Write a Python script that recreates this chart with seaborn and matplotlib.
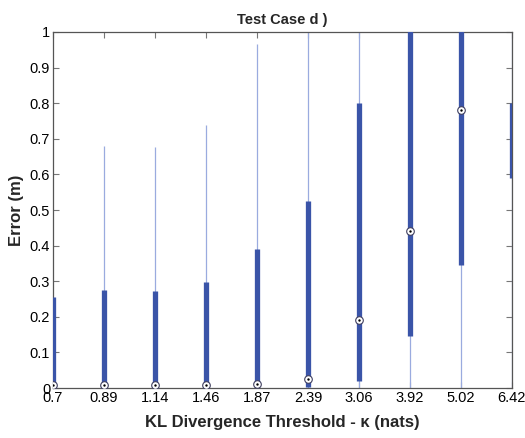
import numpy as np
import pandas as pd
import matplotlib
matplotlib.use("Agg")
import matplotlib.pyplot as plt
import seaborn as sns

# ---- data ----
thresholds = ["0.7", "0.89", "1.14", "1.46", "1.87", "2.39", "3.06", "3.92", "5.02", "6.42"]
whisker_lo = [0.0, 0.0, 0.0, 0.0, 0.0, 0.0, 0.0, 0.0, 0.0, 0.0]
q1 = [0.0, 0.0, 0.0, 0.0, 0.0, 0.004, 0.02, 0.145, 0.345, 0.59]
median = [0.01, 0.01, 0.01, 0.01, 0.012, 0.025, 0.19, 0.44, 0.78, 1.1]
q3 = [0.255, 0.275, 0.273, 0.298, 0.39, 0.525, 0.80, 1.1, 1.1, 0.80]
whisker_hi = [0.255, 0.68, 0.678, 0.74, 0.965, 1.1, 1.1, 1.1, 1.1, 1.1]
yticks = [0, 0.1, 0.2, 0.3, 0.4, 0.5, 0.6, 0.7, 0.8, 0.9, 1]
ytick_labels = ["0", "0.1", "0.2", "0.3", "0.4", "0.5", "0.6", "0.7", "0.8", "0.9", "1"]

df = pd.DataFrame({"threshold": thresholds, "wlo": whisker_lo, "q1": q1,
                   "median": median, "q3": q3, "whi": whisker_hi})

sns.set_style("white")
plt.rcParams["font.family"] = ["Liberation Sans", "DejaVu Sans"]

fig = plt.figure(figsize=(5.25, 4.38), dpi=100)
ax = fig.add_axes([0.101, 0.114, 0.874, 0.813])

pos = np.arange(len(df))
box_color = "#3a54a8"
whisk_color = "#9aabdf"

ax.vlines(pos, df["wlo"], df["whi"], color=whisk_color, lw=0.9, zorder=2)
ax.vlines(pos, df["q1"], df["q3"], color=box_color, lw=3.8, zorder=3)

sns.scatterplot(data=df, x=pos, y="median", ax=ax, marker="o", s=30,
                facecolor="white", edgecolor="#404060", linewidth=0.8, zorder=4,
                legend=False)
sns.scatterplot(data=df, x=pos, y="median", ax=ax, marker="o", s=3,
                color="black", linewidth=0, zorder=5, legend=False)

ax.set_xlim(0, len(df) - 1)
ax.set_ylim(0, 1)
ax.set_xticks(pos)
ax.set_xticklabels(thresholds)
ax.set_yticks(yticks)
ax.set_yticklabels(ytick_labels)

for s in ax.spines.values():
    s.set_visible(True)
    s.set_color("#555555")
    s.set_linewidth(0.9)

ax.tick_params(axis="both", which="both", direction="in", length=4, width=0.8,
               color="#777777", labelsize=10.5, labelcolor="black",
               top=True, right=True, bottom=True, left=True, pad=2)

ax.set_title("Test Case d )", fontsize=10.5, fontweight="bold", pad=6)
ax.set_ylabel("Error (m)", fontsize=12, fontweight="bold", labelpad=4)
ax.set_xlabel("KL Divergence Threshold - κ (nats)", fontsize=12,
              fontweight="bold", labelpad=7)

fig.savefig("out.png", dpi=100)
